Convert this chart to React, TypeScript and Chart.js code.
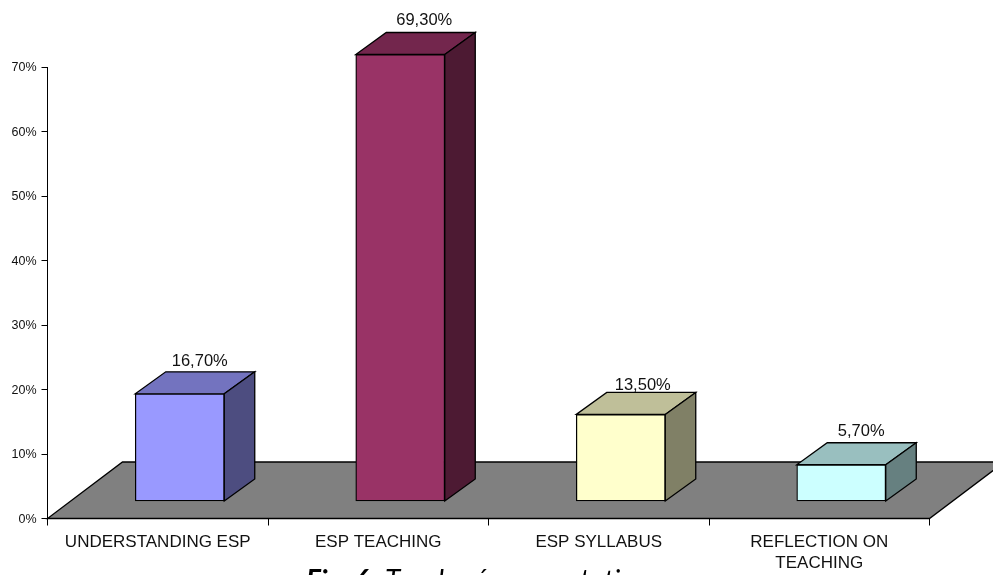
import React, { useEffect, useRef } from "react";
import { Chart, registerables } from "chart.js";

Chart.register(...registerables);

const categories = ["UNDERSTANDING ESP", "ESP TEACHING", "ESP SYLLABUS", ["REFLECTION ON", "TEACHING"]];
const shares = [16.7, 69.3, 13.5, 5.7];
const frontColors = ["#9999FF", "#993366", "#FFFFCC", "#CCFFFF"];
const topColors = ["#7373BF", "#73264D", "#BFBF99", "#99BFBF"];
const sideColors = ["#4D4D80", "#4D1A33", "#808066", "#668080"];
const yTicks = [0, 10, 20, 30, 40, 50, 60, 70];
const caption = ["Fig. 6", "Teacher´s presentation"];

const FLOOR_DX = 75;
const FLOOR_DY = 56.5;
const BAR_DX = 30.5;
const BAR_DY = 22;
const LIFT_X = 22;
const LIFT_Y = 17;
const LINE = 1.3;
const FONT = "'Liberation Sans', Arial, sans-serif";
const LABEL_SHIFT = [
  [20, -6],
  [24, -8],
  [22, -2],
  [20, -7],
];

function poly(ctx: CanvasRenderingContext2D, pts: number[][], fill: string) {
  ctx.beginPath();
  pts.forEach(([x, y], i) => (i ? ctx.lineTo(x, y) : ctx.moveTo(x, y)));
  ctx.closePath();
  ctx.fillStyle = fill;
  ctx.fill();
  ctx.strokeStyle = "#000";
  ctx.lineWidth = LINE;
  ctx.stroke();
}

// Perspective floor, extruded bar faces, value labels and the figure caption.
const box3d = {
  id: "box3d",
  beforeDatasetsDraw(chart: any) {
    const { ctx, chartArea: a } = chart;
    ctx.save();
    poly(
      ctx,
      [
        [a.left, a.bottom],
        [a.right, a.bottom],
        [a.right + FLOOR_DX, a.bottom - FLOOR_DY],
        [a.left + FLOOR_DX, a.bottom - FLOOR_DY],
      ],
      "#808080",
    );
    ctx.restore();

    ctx.save();
    ctx.translate(LIFT_X, -LIFT_Y);
    chart.getDatasetMeta(0).data.forEach((bar: any, i: number) => {
      const l = bar.x - bar.width / 2;
      const r = bar.x + bar.width / 2;
      poly(ctx, [[l, bar.y], [r, bar.y], [r + BAR_DX, bar.y - BAR_DY], [l + BAR_DX, bar.y - BAR_DY]], topColors[i]);
      poly(ctx, [[r, bar.y], [r + BAR_DX, bar.y - BAR_DY], [r + BAR_DX, bar.base - BAR_DY], [r, bar.base]], sideColors[i]);
    });
  },
  afterDatasetsDraw(chart: any) {
    const { ctx } = chart;
    ctx.restore();

    ctx.save();
    ctx.font = `16.5px ${FONT}`;
    ctx.fillStyle = "#111";
    ctx.textAlign = "center";
    ctx.textBaseline = "alphabetic";
    chart.getDatasetMeta(0).data.forEach((bar: any, i: number) => {
      const text = `${shares[i].toFixed(2).replace(".", ",")}%`;
      ctx.fillText(text, bar.x + LIFT_X + LABEL_SHIFT[i][0], bar.y - LIFT_Y - BAR_DY + LABEL_SHIFT[i][1]);
    });

    ctx.textAlign = "left";
    ctx.fillStyle = "#000";
    ctx.font = "italic bold 28px Lato, sans-serif";
    ctx.fillText(caption[0], 306, 590);
    ctx.font = "italic 28px Lato, sans-serif";
    ctx.fillText(caption[1], 385, 590);
    ctx.restore();
  },
};

export default function App() {
  const ref = useRef<HTMLCanvasElement>(null);

  useEffect(() => {
    const chart = new Chart(ref.current!, {
      type: "bar",
      data: {
        labels: categories as any,
        datasets: [
          {
            data: shares,
            backgroundColor: frontColors,
            borderColor: "#000",
            borderWidth: LINE,
            borderSkipped: false,
            barThickness: 89,
            clip: false as any,
          },
        ],
      },
      options: {
        animation: false,
        responsive: false,
        layout: { padding: { left: 0, top: 67, right: 63.5, bottom: 0 } },
        plugins: { legend: { display: false }, tooltip: { enabled: false } },
        scales: {
          x: {
            afterFit: (s: any) => {
              s.height = 56.5;
            },
            border: { color: "#000", width: 1 },
            grid: { color: "#000", drawOnChartArea: false, tickLength: 7 },
            ticks: {
              color: "#111",
              maxRotation: 0,
              autoSkip: false,
              padding: 6,
              font: { family: FONT, size: 17, lineHeight: 1.25 },
            },
          },
          y: {
            min: 0,
            max: 70,
            afterFit: (s: any) => {
              s.width = 47.5;
            },
            afterBuildTicks: (s: any) => {
              s.ticks = yTicks.map((value) => ({ value }));
            },
            border: { color: "#000", width: 1 },
            grid: { color: "#000", drawOnChartArea: false, tickLength: 6 },
            ticks: {
              color: "#111",
              padding: 5,
              labelOffset: 1,
              callback: (v: any) => `${v}%`,
              font: { family: FONT, size: 12.5 },
            },
          },
        },
      },
      plugins: [box3d],
    });
    return () => chart.destroy();
  }, []);

  return (
    <canvas
      ref={ref}
      width={993}
      height={575}
      style={{ position: "fixed", left: 0, top: 0, display: "block", width: 993, height: 575 }}
    />
  );
}
